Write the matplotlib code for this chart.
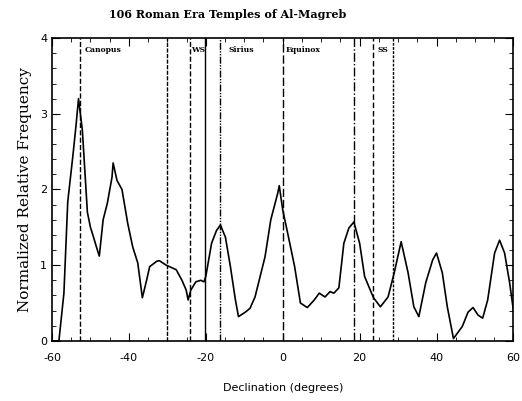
import matplotlib
matplotlib.use("Agg")
import matplotlib.pyplot as plt
from matplotlib.ticker import MultipleLocator

plt.rcParams['axes.unicode_minus'] = False

# declination (deg) vs normalized relative frequency
decl = [-60, -58.2, -56.9, -55.9, -54.6, -53.8, -53.1, -52.1, -51.3, -50.8, -50.0,
        -49.5, -48.2, -47.7, -46.7, -45.6, -44.4, -44.1, -43.1, -41.8, -40.3,
        -39.0, -37.7, -36.5, -35.4, -34.6, -32.8, -32.1, -30.3, -27.7, -26.2,
        -25.1, -24.6, -23.9, -22.6, -21.3, -20.5, -20.0, -18.5, -17.2, -16.2,
        -14.9, -13.6, -12.3, -11.5, -9.7, -8.5, -7.2, -4.6, -3.1, -1.3, -0.9,
        0.0, 1.3, 3.1, 4.6, 6.4, 8.2, 9.5, 11.0, 12.3, 13.3, 14.6, 15.9, 17.2,
        18.5, 20.0, 21.3, 23.6, 25.4, 27.4, 29.0, 30.8, 32.6, 34.1, 35.4, 37.2,
        39.0, 40.0, 41.5, 42.8, 44.4, 46.7, 48.2, 49.5, 50.8, 52.0, 53.3, 55.1,
        56.4, 57.7, 59.0, 60.0]
freq = [0.0, 0.0, 0.63, 1.84, 2.43, 2.82, 3.2, 2.78, 2.12, 1.7, 1.5,
        1.42, 1.2, 1.12, 1.6, 1.82, 2.16, 2.35, 2.12, 2.0, 1.55,
        1.24, 1.03, 0.57, 0.8, 0.98, 1.05, 1.06, 1.0, 0.94, 0.8,
        0.67, 0.54, 0.67, 0.78, 0.8, 0.78, 0.85, 1.29, 1.46, 1.53,
        1.37, 0.98, 0.54, 0.32, 0.38, 0.43, 0.58, 1.11, 1.6, 1.95, 2.05,
        1.73, 1.42, 0.98, 0.5, 0.44, 0.54, 0.63, 0.58, 0.65, 0.63, 0.7, 1.29, 1.49,
        1.57, 1.29, 0.85, 0.57, 0.45, 0.58, 0.9, 1.31, 0.9, 0.45, 0.32, 0.77,
        1.07, 1.16, 0.9, 0.45, 0.03, 0.19, 0.38, 0.44, 0.34, 0.3, 0.54, 1.16,
        1.33, 1.16, 0.77, 0.4]

# reference declinations and their labels
ref_decl = [-52.6, -30.2, -24.2, -20.2, -16.2, 0.0, 18.5, 23.6, 28.7]
ref_style = ['--', (0, (3, 1)), '--', '-', (0, (5, 1, 1, 1, 1, 1)), (0, (6, 2)), '-.', (0, (4, 2)), (0, (2, 1))]
lbl_text = ['Canopus', 'WS', 'Sirius', 'Equinox', 'SS']
lbl_x = [-51.6, -23.8, -14.0, 0.8, 24.6]

fig = plt.figure(figsize=(5.22, 4.01), dpi=100)
ax = fig.add_axes([0.0996, 0.150, 0.884, 0.755])

ax.plot(decl, freq, color='black', lw=1.2)
for d, s in zip(ref_decl, ref_style):
    ax.axvline(d, color='black', lw=1.0, ls=s)
for t, x in zip(lbl_text, lbl_x):
    ax.text(x, 3.9, t, fontsize=5.5, family='DejaVu Serif', weight='bold', va='top', ha='left')

ax.set_xlim(-60, 60)
ax.set_ylim(0, 4)
ax.xaxis.set_major_locator(MultipleLocator(20))
ax.xaxis.set_minor_locator(MultipleLocator(5))
ax.yaxis.set_major_locator(MultipleLocator(1))
ax.yaxis.set_minor_locator(MultipleLocator(0.2))
ax.tick_params(which='both', direction='in', top=True, right=True, labelsize=8)
ax.tick_params(which='major', length=6)
ax.tick_params(which='minor', length=3)
ax.tick_params(axis='x', which='major', pad=9)
for sp in ax.spines.values():
    sp.set_linewidth(1.2)

ax.set_xlabel('Declination (degrees)', fontsize=8, labelpad=14)
ax.set_ylabel('Normalized Relative Frequency', fontsize=11, family='DejaVu Serif', labelpad=6)
fig.text(0.437, 0.963, '106 Roman Era Temples of Al-Magreb', fontsize=8, family='DejaVu Serif',
         weight='bold', ha='center', va='center')

fig.savefig('out.png', dpi=100)
